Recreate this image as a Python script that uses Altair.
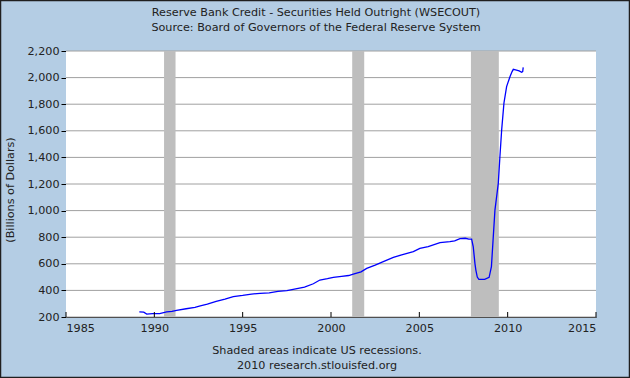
import altair as alt
import pandas as pd

# ---- data ----
years = [1989.15, 1989.4, 1989.57, 1989.9, 1990.3, 1990.7, 1991.0, 1991.26, 1991.8,
         1992.3, 1992.6, 1993.0, 1993.5, 1994.0, 1994.47, 1995.0, 1995.5, 1995.98,
         1996.5, 1997.0, 1997.5, 1997.86, 1998.5, 1999.0, 1999.37, 1999.8, 2000.13,
         2000.6, 2001.0, 2001.26, 2001.7, 2002.02, 2002.5, 2002.96, 2003.53, 2004.0,
         2004.66, 2005.03, 2005.5, 2006.17, 2006.73, 2007.0, 2007.3, 2007.6, 2007.8,
         2007.96, 2008.05, 2008.15, 2008.2, 2008.28, 2008.37, 2008.7, 2008.95, 2009.08,
         2009.17, 2009.28, 2009.38, 2009.47, 2009.56, 2009.66, 2009.79, 2009.94,
         2010.13, 2010.25, 2010.32, 2010.5, 2010.65, 2010.79, 2010.85, 2010.88]
values = [238, 236, 222, 226, 226, 238, 242, 250, 262,
          272, 283, 296, 318, 335, 353, 362, 372, 378,
          382, 392, 398, 408, 425, 450, 478, 488, 498,
          506, 512, 523, 540, 566, 590, 616, 649, 668,
          691, 716, 730, 759, 766, 772, 789, 792, 785,
          785, 730, 600, 553, 500, 483, 483, 498, 578,
          770, 1004, 1110, 1207, 1403, 1606, 1809, 1932,
          2007, 2045, 2062, 2057, 2050, 2040, 2045, 2077]

rec_start = [1990.55, 2001.2, 2007.92]
rec_end = [1991.2, 2001.88, 2009.5]

tick_years = [1985, 1990, 1995, 2000, 2005, 2010, 2015]
y_ticks = [200, 400, 600, 800, 1000, 1200, 1400, 1600, 1800, 2000, 2200]

title1 = "Reserve Bank Credit - Securities Held Outright (WSECOUT)"
title2 = "Source: Board of Governors of the Federal Reserve System"
foot1 = "Shaded areas indicate US recessions."
foot2 = "2010 research.stlouisfed.org"
ytitle = "(Billions of Dollars)"

FONT = "DejaVu Sans"
TXT = "#222222"
FS = 11.2
W, H = 530, 266

line_df = pd.DataFrame({"year": years, "value": values})
rec_df = pd.DataFrame({"start": rec_start, "end": rec_end})
tick_df = pd.DataFrame({"year": tick_years})
grid_df = pd.DataFrame({"v": y_ticks})

xscale = alt.Scale(domain=[1985, 2015], nice=False, zero=False)
yscale = alt.Scale(domain=[200, 2200], nice=False, zero=False)

xaxis = alt.Axis(values=tick_years, format="d", ticks=False, grid=False,
                 domainColor="black", domainWidth=1, labelFont=FONT,
                 labelFontSize=FS, labelColor=TXT, labelPadding=5, title=None,
                 labelOverlap=False)
yaxis = alt.Axis(values=y_ticks, format=",d", tickSize=5, grid=False,
                 tickColor="black", domainColor="black",
                 labelFont=FONT, labelFontSize=FS, labelColor=TXT,
                 labelPadding=2, title=None, labelOverlap=False)

# white plot background
plotbg = alt.Chart(pd.DataFrame({"a": [0]})).mark_rect(color="white").encode(
    x=alt.value(0), x2=alt.value(W), y=alt.value(0), y2=alt.value(H))

# horizontal gridlines
grid = alt.Chart(grid_df).mark_rule(color="#A0A0A0", strokeWidth=1).encode(
    y=alt.Y("v:Q", scale=yscale, axis=yaxis),
    x=alt.value(0), x2=alt.value(W),
)

rec = alt.Chart(rec_df).transform_calculate(
    lo=str(y_ticks[0]), hi=str(y_ticks[-1])
).mark_rect(color="#BEBEBE").encode(
    x=alt.X("start:Q", scale=xscale, axis=xaxis),
    x2="end:Q",
    y=alt.Y("hi:Q", scale=yscale, axis=yaxis),
    y2="lo:Q",
)

line = alt.Chart(line_df).mark_line(color="#0000FF", strokeWidth=1.3).encode(
    x=alt.X("year:Q", scale=xscale, axis=xaxis),
    y=alt.Y("value:Q", scale=yscale, axis=yaxis),
)

ticks = alt.Chart(tick_df).mark_rule(color="black", strokeWidth=1).encode(
    x=alt.X("year:Q", scale=xscale, axis=xaxis),
    y=alt.value(H),
    y2=alt.value(H - 5),
)

def label(txt, px, py, angle=0):
    return alt.Chart(pd.DataFrame({"t": [txt]})).mark_text(
        font=FONT, fontSize=FS, color=TXT, baseline="middle", align="center",
        angle=angle).encode(text="t:N", x=alt.value(px), y=alt.value(py))

texts = [
    label(title1, 250, -38),
    label(title2, 250, -23),
    label(foot1, 251, 300),
    label(foot2, 251, 315),
    label(ytitle, -55, 139, 270),
]

border = alt.Chart(pd.DataFrame({"a": [0]})).mark_rect(
    filled=False, fill="transparent", stroke="#1F1F1F", strokeWidth=1.5).encode(
    x=alt.value(-65.5), x2=alt.value(563.5), y=alt.value(-50.5), y2=alt.value(326.5))

chart = alt.layer(plotbg, grid, rec, line, ticks, *texts, border).properties(
    width=W, height=H,
    autosize=alt.AutoSizeParams(type="none"),
    padding={"left": 66, "top": 51, "right": 34, "bottom": 61},
    background="#B4CDE4",
).configure_view(stroke=None)

chart.save("out.html", embed_options={"renderer": "svg", "actions": False})
